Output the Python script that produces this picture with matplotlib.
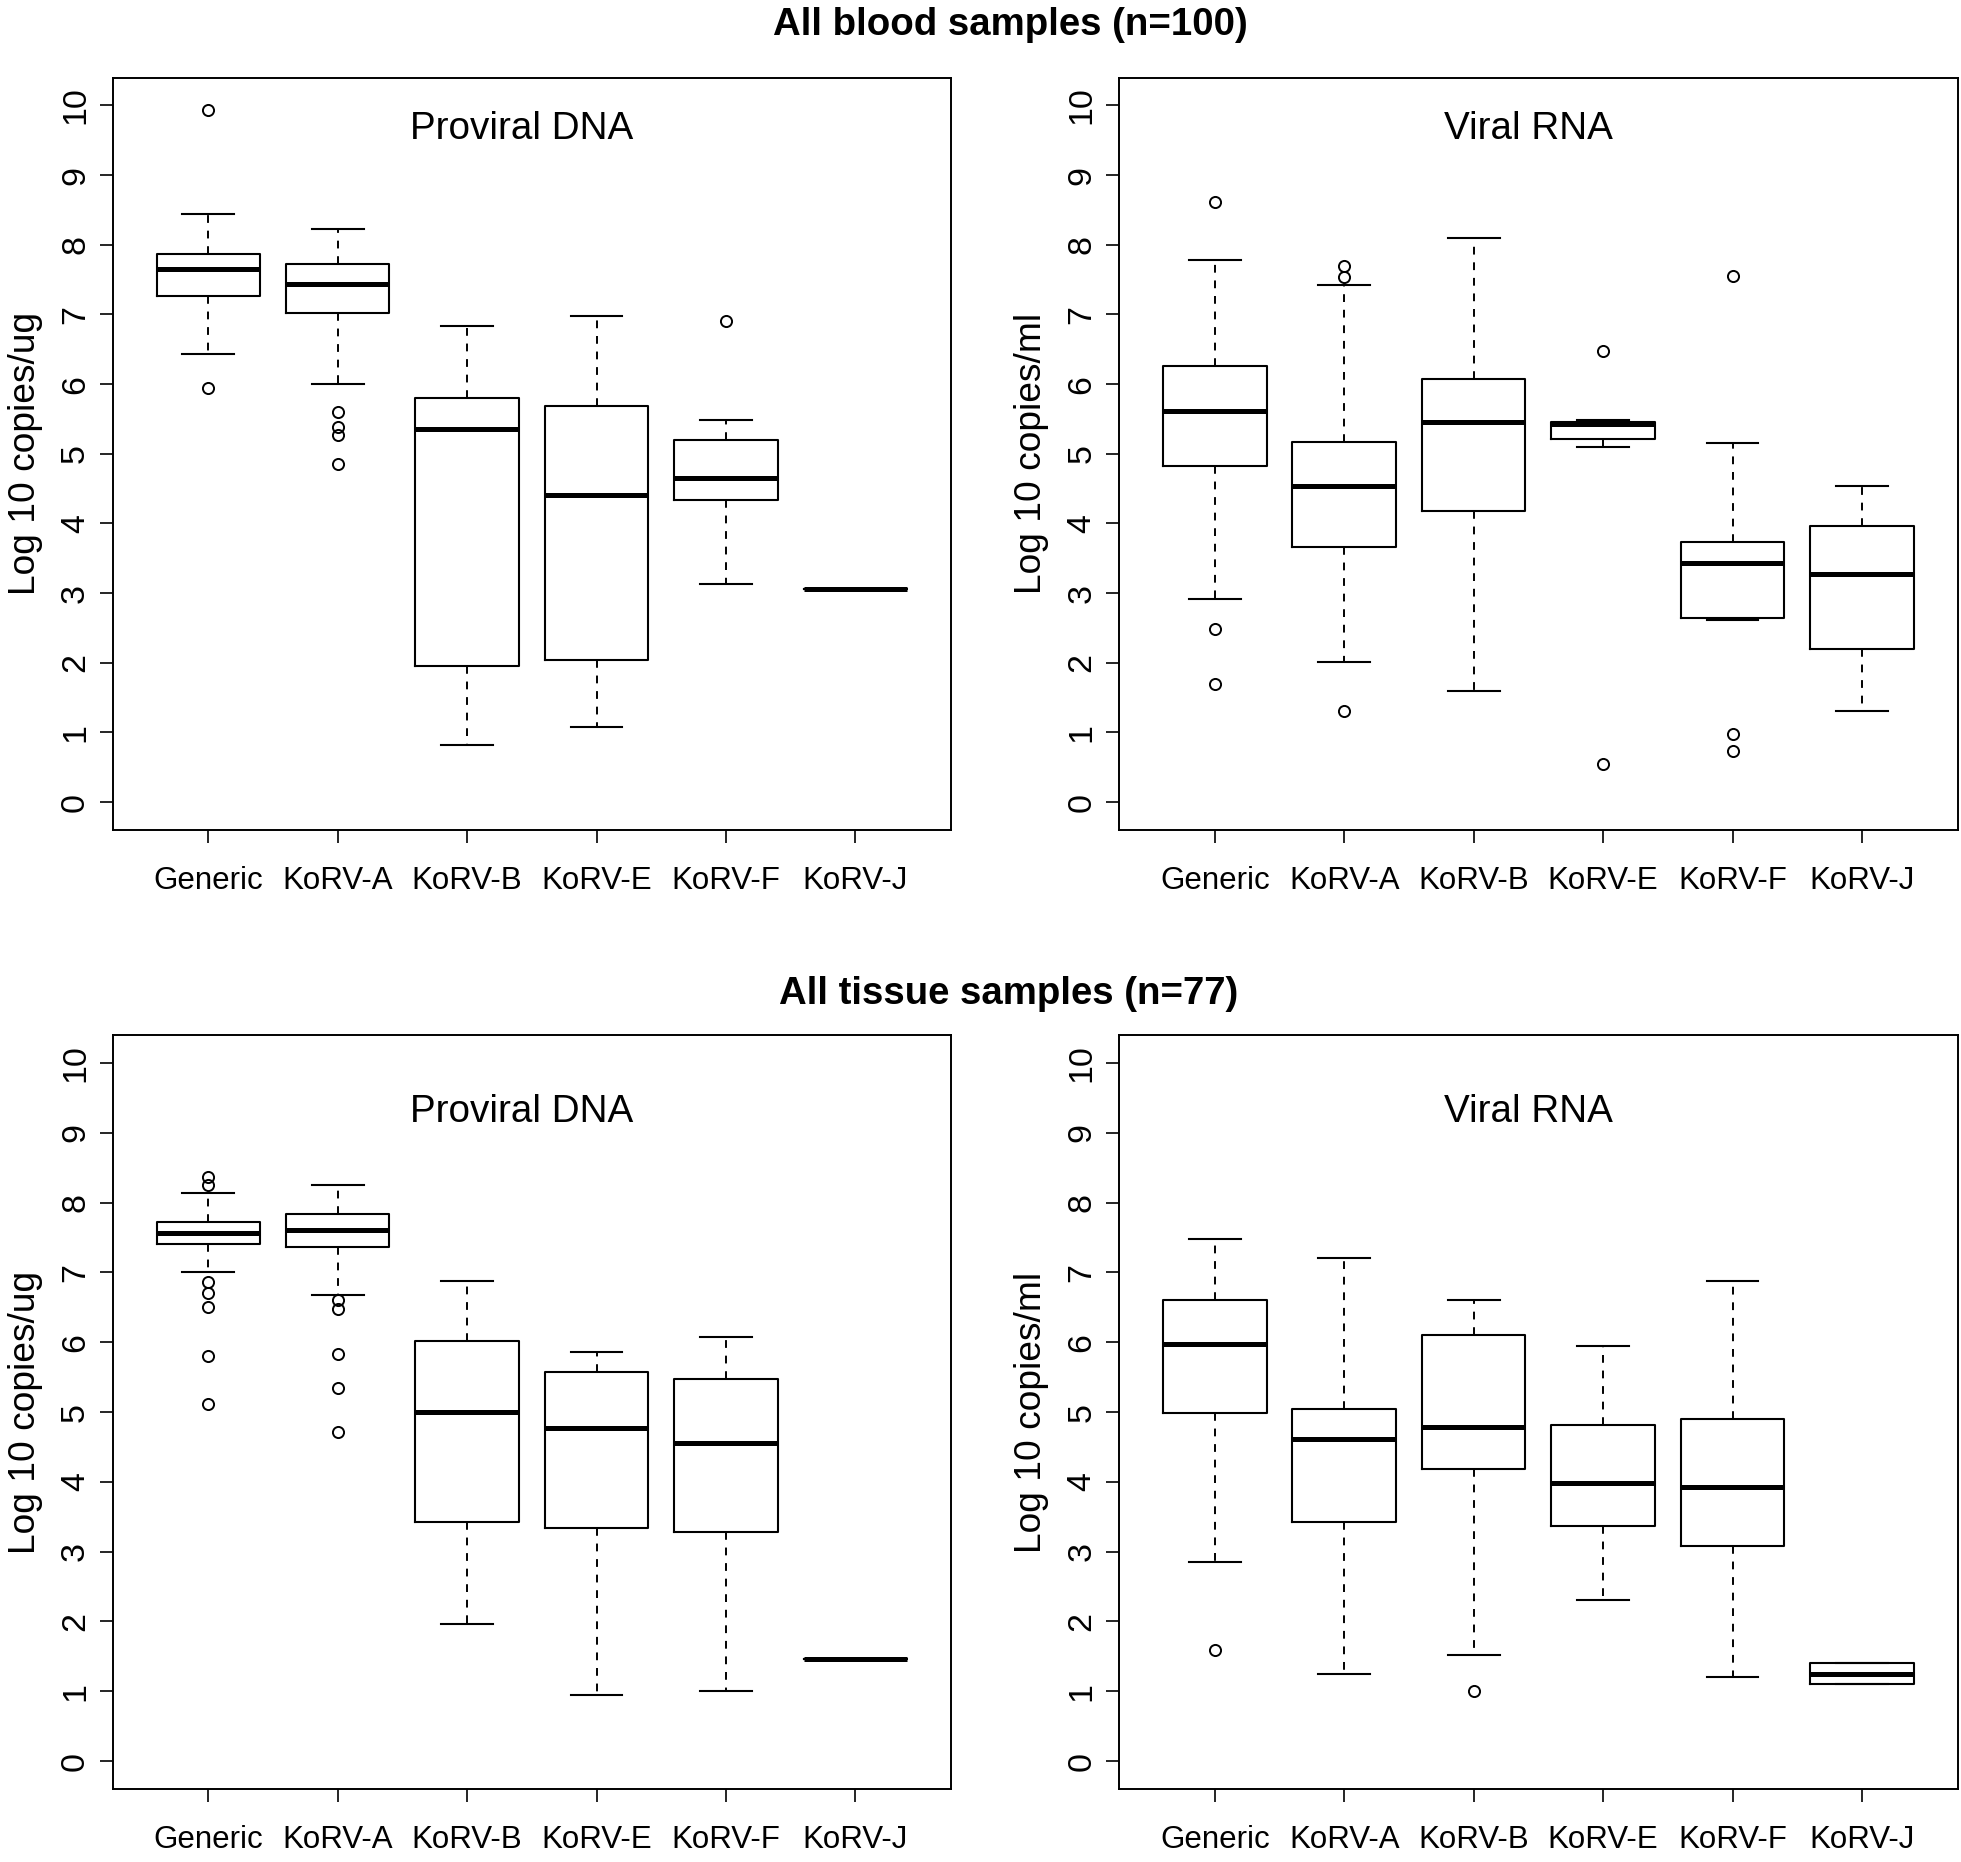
import matplotlib
matplotlib.use("Agg")
import matplotlib.pyplot as plt

plt.rcParams['font.family'] = ['Liberation Sans', 'DejaVu Sans']

categories = ["Generic", "KoRV-A", "KoRV-B", "KoRV-E", "KoRV-F", "KoRV-J"]

# Each box: (lower whisker, Q1, median, Q3, upper whisker)
blood_dna_stats = [
    (6.43, 7.27, 7.65, 7.87, 8.44),
    (6.00, 7.02, 7.44, 7.72, 8.23),
    (0.82, 1.95, 5.35, 5.80, 6.83),
    (1.08, 2.04, 4.41, 5.68, 6.97),
    (3.13, 4.33, 4.65, 5.20, 5.49),
    (3.06, 3.06, 3.06, 3.06, 3.06),
]
blood_dna_out = [
    [9.94, 5.94],
    [5.60, 5.39, 5.27, 4.85],
    [],
    [],
    [6.90],
    [],
]

blood_rna_stats = [
    (2.92, 4.83, 5.61, 6.26, 7.78),
    (2.01, 3.66, 4.54, 5.17, 7.42),
    (1.60, 4.18, 5.46, 6.08, 8.09),
    (5.10, 5.21, 5.42, 5.46, 5.49),
    (2.61, 2.64, 3.43, 3.73, 5.15),
    (1.31, 2.20, 3.27, 3.96, 4.54),
]
blood_rna_out = [
    [8.62, 2.48, 1.70],
    [7.70, 7.53, 1.31],
    [],
    [6.48, 0.55],
    [7.55, 0.98, 0.74],
    [],
]

tissue_dna_stats = [
    (7.00, 7.40, 7.57, 7.72, 8.14),
    (6.68, 7.37, 7.61, 7.83, 8.25),
    (1.96, 3.42, 5.00, 6.02, 6.87),
    (0.95, 3.34, 4.77, 5.58, 5.86),
    (1.01, 3.28, 4.56, 5.47, 6.08),
    (1.46, 1.46, 1.46, 1.46, 1.46),
]
tissue_dna_out = [
    [8.37, 8.25, 6.86, 6.70, 6.50, 5.80, 5.11],
    [6.60, 6.48, 5.83, 5.34, 4.71],
    [],
    [],
    [],
    [],
]

tissue_rna_stats = [
    (2.85, 4.99, 5.98, 6.60, 7.48),
    (1.25, 3.42, 4.62, 5.05, 7.20),
    (1.52, 4.19, 4.78, 6.10, 6.61),
    (2.31, 3.36, 3.99, 4.82, 5.94),
    (1.21, 3.08, 3.93, 4.90, 6.87),
    (1.11, 1.11, 1.25, 1.40, 1.40),
]
tissue_rna_out = [
    [1.59],
    [],
    [1.00],
    [],
    [],
    [],
]

y_ticks = [0, 1, 2, 3, 4, 5, 6, 7, 8, 9, 10]

W, H = 1961, 1862
fig = plt.figure(figsize=(W / 100, H / 100), dpi=100)

ax_w = 838.75 / W
ax_h_top = 752.5 / H
ax_h_bot = 754.0 / H
left1 = 112.5 / W
left2 = 1119.0 / W
bot_top = 1 - 830.0 / H
bot_bot = 1 - 1789.0 / H

panels = [
    (left1, bot_top, ax_h_top, blood_dna_stats, blood_dna_out, "Proviral DNA", "Log 10 copies/ug", 9.66),
    (left2, bot_top, ax_h_top, blood_rna_stats, blood_rna_out, "Viral RNA", "Log 10 copies/ml", 9.66),
    (left1, bot_bot, ax_h_bot, tissue_dna_stats, tissue_dna_out, "Proviral DNA", "Log 10 copies/ug", 9.30),
    (left2, bot_bot, ax_h_bot, tissue_rna_stats, tissue_rna_out, "Viral RNA", "Log 10 copies/ml", 9.30),
]

for (l, b, h, stats, outs, title, ylabel, ty) in panels:
    ax = fig.add_axes([l, b, ax_w, h])
    bxp_stats = []
    for cat, s, o in zip(categories, stats, outs):
        bxp_stats.append(dict(label=cat, whislo=s[0], q1=s[1], med=s[2],
                              q3=s[3], whishi=s[4], fliers=o))
    ax.bxp(bxp_stats, positions=range(1, 7), widths=0.8, capwidths=0.4,
           boxprops=dict(color='black', linewidth=1.5),
           whiskerprops=dict(color='black', linewidth=1.4, linestyle=(0, (4, 4))),
           capprops=dict(color='black', linewidth=1.5),
           medianprops=dict(color='black', linewidth=3.6, solid_capstyle='butt'),
           flierprops=dict(marker='o', markerfacecolor='none', markeredgecolor='black',
                           markersize=8, markeredgewidth=1.4, linestyle='none'),
           manage_ticks=False)
    ax.set_xlim(0.26, 6.74)
    ax.set_ylim(-0.4, 10.4)
    ax.set_xticks(range(1, 7))
    ax.set_xticklabels(categories, fontsize=22.5)
    ax.set_yticks(y_ticks)
    ax.set_yticklabels([str(t) for t in y_ticks], fontsize=24.5, rotation=90, va='center')
    ax.tick_params(axis='x', length=9.4, width=1.2, pad=16.5)
    ax.tick_params(axis='y', length=9.4, width=1.2, pad=6)
    for sp in ax.spines.values():
        sp.set_linewidth(1.4)
    ax.text(-0.104, 0.5, ylabel, transform=ax.transAxes, rotation=90,
            ha='center', va='center', fontsize=26.7)
    ax.text(3.42, ty, title, ha='center', va='center', fontsize=27.8)

fig.text(1010 / W, 1 - 25.0 / H, "All blood samples (n=100)", ha='center', va='center',
         fontsize=27.6, fontweight='bold')
fig.text(1009 / W, 1 - 994.0 / H, "All tissue samples (n=77)", ha='center', va='center',
         fontsize=27.6, fontweight='bold')

fig.savefig("out.png", dpi=100)
